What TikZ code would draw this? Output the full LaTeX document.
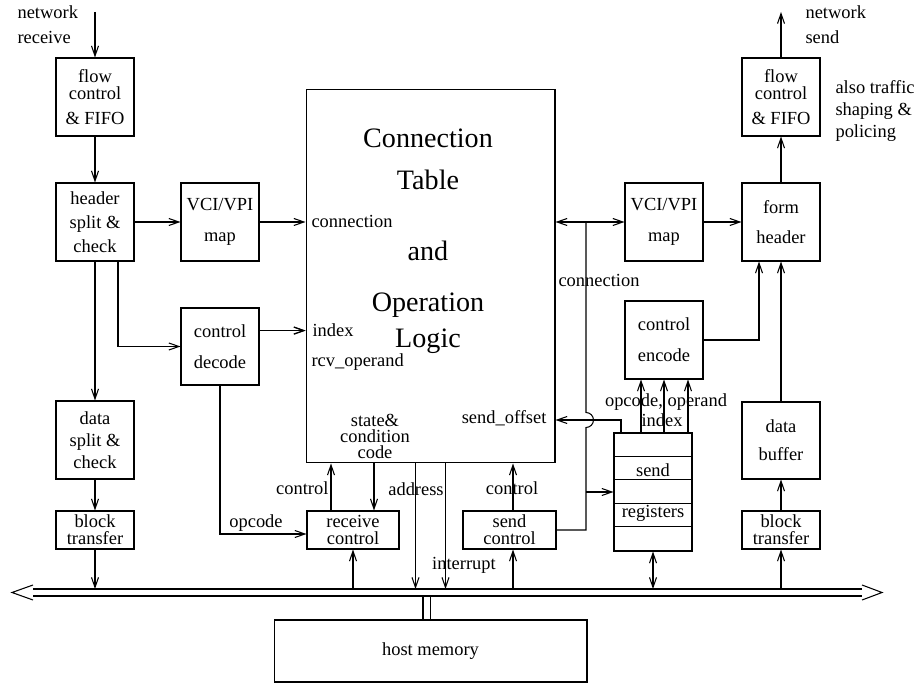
\documentclass[tikz,border=0pt]{standalone}
\usepackage{fontspec}
\setmainfont{Liberation Serif}
\usetikzlibrary{arrows.meta, calc}

\begin{document}
\begin{tikzpicture}[x=0.02cm, y=-0.02cm, line width=0.6pt,
    >={Straight Barb[length=2mm, width=1.4mm]},
    every node/.style={font=\fontsize{10.5}{13}\selectfont, inner sep=0pt},
    box/.style={draw, minimum width=1.56cm, minimum height=1.56cm, align=center},
    pair/.style={box, font=\fontsize{10.5}{17.5}\selectfont},
    flat/.style={draw, minimum height=0.76cm, align=center, font=\fontsize{10.5}{9.7}\selectfont}]
  \useasboundingbox (0,0) rectangle (923,685);

  % receive path
  \node[box, font=\fontsize{10.5}{9.6}\selectfont] (flowL) at (95,97) {flow\\control\\[4.6pt]\& FIFO};
  \node[box, font=\fontsize{10.5}{13.6}\selectfont] (headL) at (95,222) {header\\split \&\\check};
  \node[pair] (vciL) at (220,222) {VCI/VPI\\map};
  \node[pair, minimum height=1.54cm] (decode) at (220,346.5) {control\\decode};
  \node[box, font=\fontsize{10.5}{12.5}\selectfont] (dataL) at (95,440) {data\\split \&\\check};
  \node[flat, minimum width=1.56cm] (blockL) at (95,530) {block\\transfer};

  % connection table
  \node[draw, minimum width=4.98cm, minimum height=7.48cm] (table) at (430.5,276) {};
  \node[align=center, font=\fontsize{16}{20.5}\selectfont] (title) at (428,241)
    {Connection\\[3.4pt]Table\\[19.9pt]and\\[8.5pt]Operation\\Logic};
  \node[flat, minimum width=1.84cm] (recv) at (353,530) {receive\\control};
  \node[flat, minimum width=1.86cm] (sendc) at (509.5,530) {send\\control};

  % send path
  \node[draw, minimum width=1.56cm, minimum height=2.36cm] (regs) at (653,492) {};
  \foreach \k in {1,...,4}
    \draw ([yshift=-\k*0.472cm]regs.north west) -- ([yshift=-\k*0.472cm]regs.north east);
  \node[anchor=base] (rsend) at (653,477) {send};
  \node[anchor=base] (rregs) at (653,518) {registers};
  \node[pair] (encode) at (664,340) {control\\encode};
  \node[pair] (vciR) at (664,222) {VCI/VPI\\map};
  \node[pair] (formh) at (781,222) {form\\header};
  \node[box, minimum height=1.54cm, font=\fontsize{10.5}{16}\selectfont] (databuf) at (781,440.5) {data\\buffer};
  \node[flat, minimum width=1.56cm] (blockR) at (781,530) {block\\transfer};
  \node[box, font=\fontsize{10.5}{9.6}\selectfont] (flowR) at (781,97) {flow\\control\\[4.6pt]\& FIFO};
  \node[draw, minimum width=6.26cm, minimum height=1.24cm] (host) at (430.5,651) {host memory};

  % labels
  \node[anchor=west, align=left, font=\fontsize{10.5}{14}\selectfont] (netin) at (17,24.5) {network\\receive};
  \node[anchor=west, align=left, font=\fontsize{10.5}{14}\selectfont] (netout) at (805,24.5) {network\\send};
  \node[anchor=west, align=left, font=\fontsize{10.5}{12.8}\selectfont] (shaping) at (835,111) {also traffic\\shaping \&\\policing};
  \node[anchor=base west] (lconn) at (311,228) {connection};
  \node[anchor=base west] (lindex) at (312,337) {index};
  \node[anchor=base west] (lrcv) at (311,367) {rcv\_operand};
  \node[align=center, font=\fontsize{10.5}{9}\selectfont] (lstate) at (375,436.5) {state\&\\condition\\code};
  \node[anchor=base east] (loffset) at (547,424) {send\_offset};
  \node[anchor=base east] (lrctl) at (329,495) {control};
  \node[anchor=base] (laddr) at (416,496) {address};
  \node[anchor=base] (lopcode) at (256,528) {opcode};
  \node[anchor=base] (lintr) at (464,570) {interrupt};
  \node[anchor=base] (lsctl) at (512,495) {control};
  \node[anchor=base] (rconn) at (599,287) {connection};
  \node[anchor=base] (lopnd) at (666,407) {opcode, operand};
  \node[anchor=base] (lidx) at (662,427) {index};

  \coordinate (rin) at (95,12);
  \coordinate (rout) at (781,12);
  \coordinate (bustop) at (0,589);
  \coordinate (busbot) at (0,596);
  \coordinate (cbus) at (586,222);
  \coordinate (hop) at (586,420);

  % system bus
  \draw (33,589) -- (862,589) (33,596) -- (862,596);
  \draw (33,585) -- (12,592.5) -- (33,600) (862,585) -- (882,592.5) -- (862,600);
  \draw ([xshift=-0.15cm]host.north) -- ([xshift=-0.15cm]host.north |- busbot);
  \draw (host.north) -- (host.north |- busbot);

  % receive connectors
  \draw[->] (rin) -- (flowL);
  \draw[->] (flowL) -- (headL);
  \draw[->] (headL) -- (vciL);
  \draw[->] (vciL) -- (vciL -| table.west);
  \draw[->] ([xshift=0.46cm]headL.south) |- (decode.west);
  \draw[->] (decode.east |- lindex.west) -- (table.west |- lindex.west);
  \draw[->] ([yshift=0.32cm]decode.east) -- ([yshift=0.32cm]decode.east -| table.west);
  \draw[->] (headL) -- (dataL);
  \draw[->] (dataL) -- (blockL);
  \draw[->] (blockL) -- (blockL.south |- bustop);
  \draw[->] (decode.south) |- ([yshift=-0.08cm]recv.west);
  \draw[->] ([xshift=-0.44cm]recv.north) -- ([xshift=-0.44cm]recv.north |- table.south);
  \draw[->] ([xshift=0.42cm]recv.north |- table.south) -- ([xshift=0.42cm]recv.north);
  \draw[->] (recv.south |- bustop) -- (recv.south);
  \draw[->] ([xshift=-0.3cm]table.south) -- ([xshift=-0.3cm]table.south |- bustop);
  \draw[->] ([xshift=0.3cm]table.south) -- ([xshift=0.3cm]table.south |- bustop);

  % send connectors
  \draw[->] ([xshift=0.07cm]sendc.north) -- ([xshift=0.07cm]sendc.north |- table.south);
  \draw[->] ([xshift=0.07cm]sendc.south |- bustop) -- ([xshift=0.07cm]sendc.south);
  \draw (sendc.east) -| ([yshift=-0.15cm]hop) arc[start angle=-90, end angle=90, radius=0.15cm] -- (cbus);
  \draw[<->] (cbus -| table.east) -- (cbus -| vciR.west);
  \draw[->] (hop |- regs.west) -- (regs.west);
  \draw[->] ([xshift=-0.64cm]regs.north) |- (table.east |- hop);
  \foreach \dx in {-0.46cm,0cm,0.48cm}
    \draw[->] ([xshift=\dx]encode.south |- regs.north) -- ([xshift=\dx]encode.south);
  \draw[<->] (regs.south) -- (regs.south |- bustop);
  \draw[->] (encode.east) -| ([xshift=-0.44cm]formh.south);
  \draw[->] (vciR) -- (formh);
  \draw[->] (databuf) -- (formh);
  \draw[->] (blockR) -- (databuf);
  \draw[->] (blockR.south |- bustop) -- (blockR.south);
  \draw[->] (formh) -- (flowR);
  \draw[->] (flowR) -- (rout);
\end{tikzpicture}
\end{document}
